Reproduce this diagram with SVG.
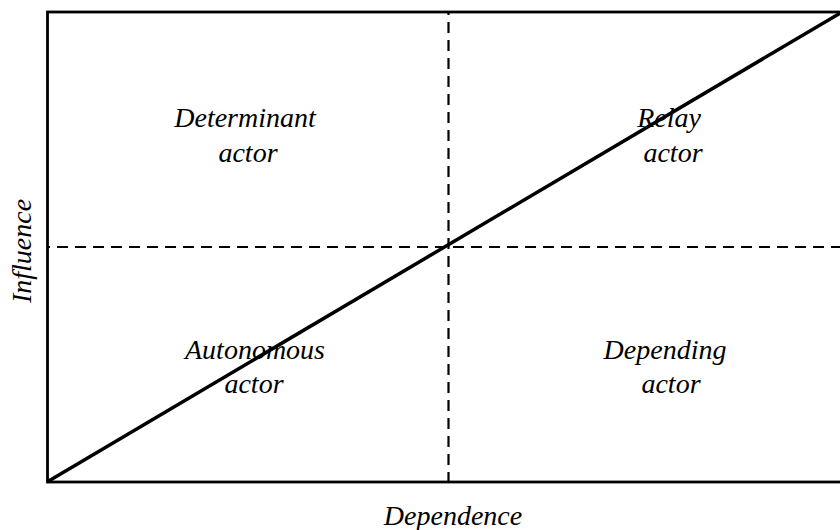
<svg xmlns="http://www.w3.org/2000/svg" width="840" height="530" viewBox="0 0 840 530">
<style>
.lbl{font-family:"Liberation Serif","Times New Roman",serif;font-style:italic;font-size:28px;fill:#000;text-anchor:middle}
.dash{stroke:#000;stroke-width:2.2;stroke-dasharray:11 7;stroke-dashoffset:8;fill:none}
</style>
<rect x="0" y="0" width="840" height="530" fill="#fff"/>
<g id="frame">
<rect x="47.5" y="12" width="802" height="470" fill="none" stroke="#000" stroke-width="2.8"/>
</g>
<g id="connectors">
<line class="dash" x1="448.5" y1="12" x2="448.5" y2="482"/>
<line class="dash" x1="47" y1="247" x2="849" y2="247"/>
<line x1="47" y1="482" x2="842" y2="12" stroke="#000" stroke-width="3.5"/>
</g>
<g id="determinant">
<text class="lbl" x="245" y="127">Determinant</text>
<text class="lbl" x="248" y="162">actor</text>
</g>
<g id="relay">
<text class="lbl" x="669" y="127">Relay</text>
<text class="lbl" x="673" y="162">actor</text>
</g>
<g id="autonomous">
<text class="lbl" x="255" y="359">Autonomous</text>
<text class="lbl" x="254" y="393">actor</text>
</g>
<g id="depending">
<text class="lbl" x="665" y="359">Depending</text>
<text class="lbl" x="671" y="393">actor</text>
</g>
<g id="axes">
<text class="lbl" x="453" y="525">Dependence</text>
<text class="lbl" transform="translate(31,251) rotate(-90)">Influence</text>
</g>
</svg>
